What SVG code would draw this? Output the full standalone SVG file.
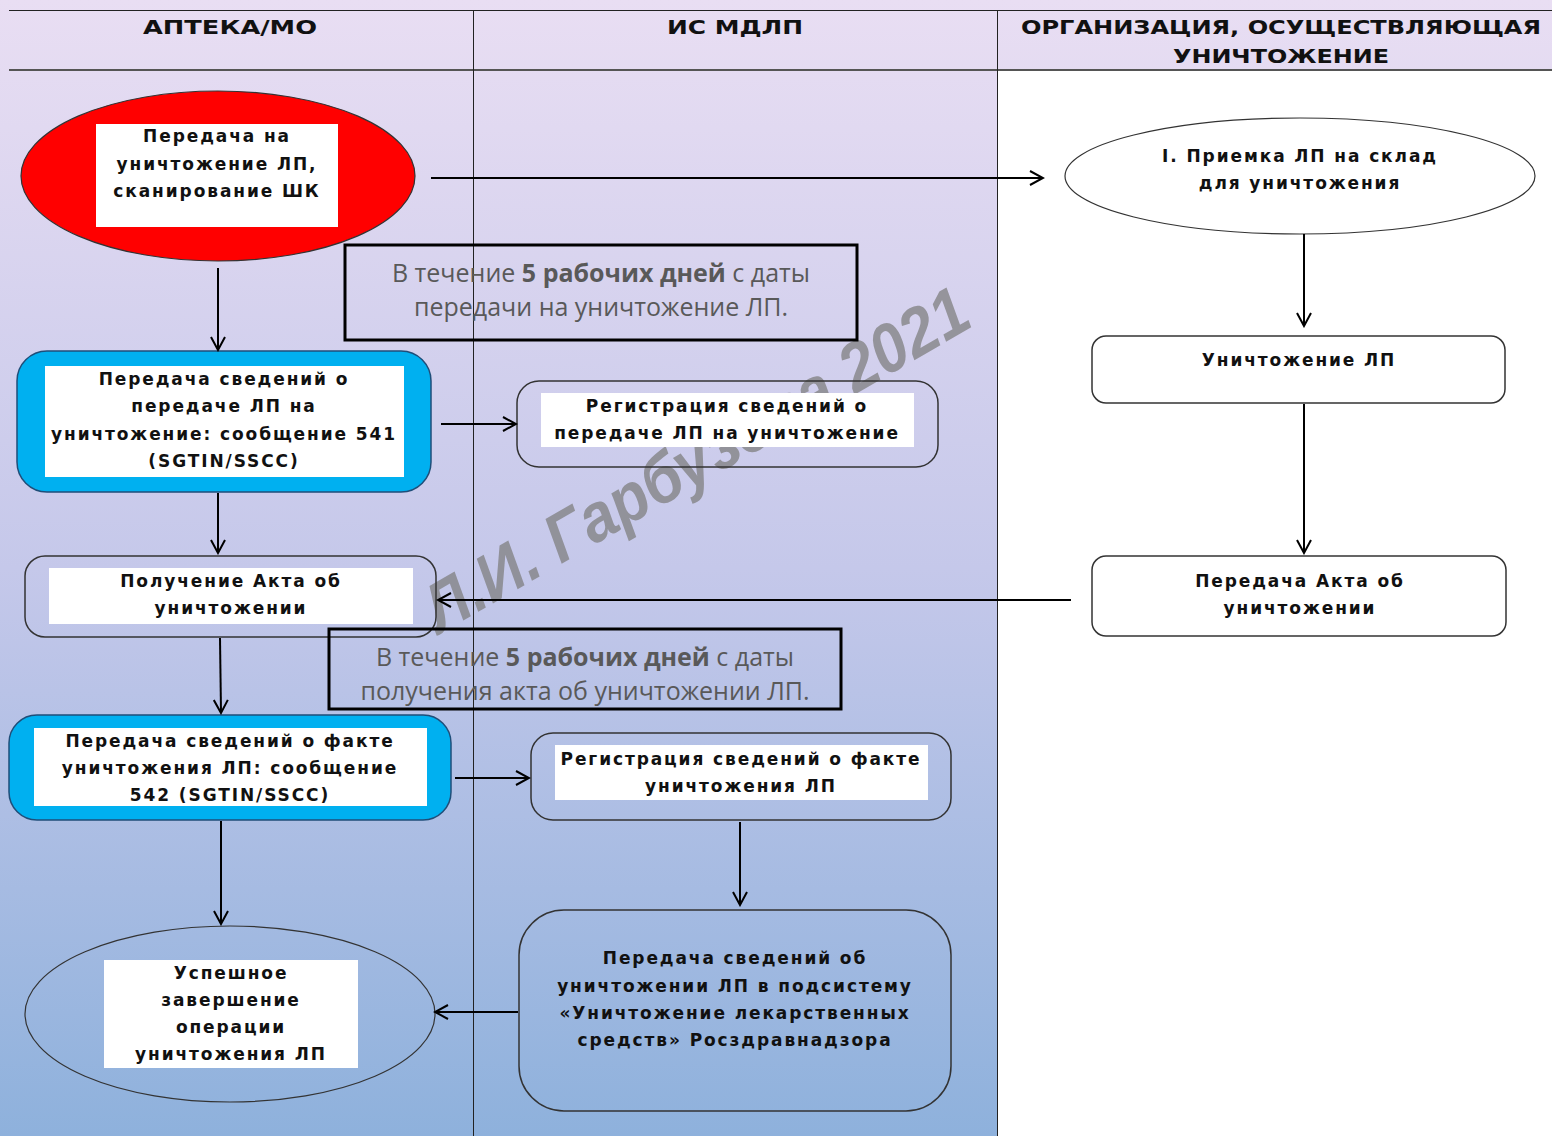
<svg xmlns="http://www.w3.org/2000/svg" width="1552" height="1136" viewBox="0 0 1552 1136">
<defs>
<linearGradient id="bg" x1="0" y1="0" x2="0" y2="1136" gradientUnits="userSpaceOnUse">
<stop offset="0" stop-color="#e9def3"/>
<stop offset="0.5" stop-color="#c5c8ea"/>
<stop offset="1" stop-color="#8eb1dc"/>
</linearGradient>
<marker id="arr" markerUnits="userSpaceOnUse" markerWidth="16" markerHeight="16" refX="14" refY="8" orient="auto">
<path d="M1,1 L14,8 L1,15" fill="none" stroke="#000" stroke-width="2"/>
</marker>
<style>
.hdr{font-family:"DejaVu Sans","Liberation Sans",sans-serif;font-weight:bold;font-size:20px;fill:#111;text-anchor:middle}
.t{font-family:"DejaVu Sans","Liberation Sans",sans-serif;font-weight:bold;font-size:17px;letter-spacing:1.9px;fill:#111;text-anchor:middle}
.note{font-family:"Open Sans","Liberation Sans",sans-serif;font-size:25px;fill:#595959;text-anchor:middle}
.nb{font-weight:bold}
.lane{stroke:#222;stroke-width:1;fill:none}
.box{fill:none;stroke:#333;stroke-width:1.5}
.wbox{fill:#fff;stroke:#333;stroke-width:1.5}
.blue{fill:#00b0f0;stroke:#1f4e79;stroke-width:1.5}
.pad{fill:#fff}
.nbox{fill:none;stroke:#000;stroke-width:3}
.c{stroke:#000;stroke-width:2;fill:none;marker-end:url(#arr)}
.wm{font-family:"Liberation Sans",sans-serif;font-weight:bold;font-style:italic;font-size:68px;fill:#7f7f7f;fill-opacity:0.75}
</style>
</defs>
<rect x="0" y="0" width="1552" height="1136" fill="url(#bg)"/>
<rect x="997" y="71" width="555" height="1065" fill="#fff"/>
<g id="lanes">
<line class="lane" x1="9" y1="10.5" x2="1552" y2="10.5"/>
<line x1="9" y1="70" x2="1552" y2="70" stroke="#555" stroke-width="2"/>
<line class="lane" x1="473.5" y1="10" x2="473.5" y2="1136"/>
<line class="lane" x1="997.5" y1="10" x2="997.5" y2="1136"/>
<text class="hdr" x="230" y="34" textLength="174" lengthAdjust="spacingAndGlyphs">АПТЕКА/МО</text>
<text class="hdr" x="735" y="34" textLength="136" lengthAdjust="spacingAndGlyphs">ИС МДЛП</text>
<text class="hdr" x="1281" y="34" textLength="520" lengthAdjust="spacingAndGlyphs">ОРГАНИЗАЦИЯ, ОСУЩЕСТВЛЯЮЩАЯ</text>
<text class="hdr" x="1281" y="63" textLength="216" lengthAdjust="spacingAndGlyphs">УНИЧТОЖЕНИЕ</text>
</g>
<text class="wm" transform="translate(440,634) rotate(-30)" textLength="618" lengthAdjust="spacingAndGlyphs">Л.И. Гарбузова 2021</text>

<g id="n-start">
<ellipse cx="218" cy="176" rx="197" ry="85" fill="#ff0000" stroke="#333" stroke-width="1.2"/>
<rect class="pad" x="96" y="124" width="242" height="103"/>
<text class="t" x="217" y="142">Передача на</text>
<text class="t" x="217" y="170">уничтожение ЛП,</text>
<text class="t" x="217" y="197">сканирование ШК</text>
</g>
<g id="n-541">
<rect class="blue" x="17" y="351" width="414" height="141" rx="30"/>
<rect class="pad" x="45" y="366" width="359" height="111"/>
<text class="t" x="224" y="385">Передача сведений о</text>
<text class="t" x="224" y="412">передаче ЛП на</text>
<text class="t" x="224" y="440">уничтожение: сообщение 541</text>
<text class="t" x="224" y="467">(SGTIN/SSCC)</text>
</g>
<g id="n-reg1">
<rect class="box" x="517" y="381" width="421" height="86" rx="22"/>
<rect class="pad" x="541" y="393" width="373" height="54"/>
<text class="t" x="727" y="412">Регистрация сведений о</text>
<text class="t" x="727" y="439">передаче ЛП на уничтожение</text>
</g>
<g id="n-act-recv">
<rect class="box" x="25" y="556" width="411" height="81" rx="20"/>
<rect class="pad" x="49" y="568" width="364" height="56"/>
<text class="t" x="231" y="587">Получение Акта об</text>
<text class="t" x="231" y="614">уничтожении</text>
</g>
<g id="n-542">
<rect class="blue" x="9" y="715" width="442" height="105" rx="28"/>
<rect class="pad" x="34" y="728" width="393" height="78"/>
<text class="t" x="230" y="747">Передача сведений о факте</text>
<text class="t" x="230" y="774">уничтожения ЛП: сообщение</text>
<text class="t" x="230" y="801">542 (SGTIN/SSCC)</text>
</g>
<g id="n-reg2">
<rect class="box" x="531" y="733" width="420" height="87" rx="22"/>
<rect class="pad" x="555" y="745" width="373" height="55"/>
<text class="t" x="741" y="765">Регистрация сведений о факте</text>
<text class="t" x="741" y="792">уничтожения ЛП</text>
</g>
<g id="n-rzn">
<rect class="box" x="519" y="910" width="432" height="201" rx="45"/>
<text class="t" x="735" y="964">Передача сведений об</text>
<text class="t" x="735" y="992">уничтожении ЛП в подсистему</text>
<text class="t" x="735" y="1019">«Уничтожение лекарственных</text>
<text class="t" x="735" y="1046">средств» Росздравнадзора</text>
</g>
<g id="n-end">
<ellipse cx="230" cy="1014" rx="205" ry="88" fill="none" stroke="#333" stroke-width="1.2"/>
<rect class="pad" x="104" y="960" width="254" height="108"/>
<text class="t" x="231" y="979">Успешное</text>
<text class="t" x="231" y="1006">завершение</text>
<text class="t" x="231" y="1033">операции</text>
<text class="t" x="231" y="1060">уничтожения ЛП</text>
</g>
<g id="n-accept">
<ellipse cx="1300" cy="176" rx="235" ry="58" fill="#fff" stroke="#333" stroke-width="1.2"/>
<text class="t" x="1300" y="162">I. Приемка ЛП на склад</text>
<text class="t" x="1300" y="189">для уничтожения</text>
</g>
<g id="n-destroy">
<rect class="wbox" x="1092" y="336" width="413" height="67" rx="14"/>
<text class="t" x="1299" y="366">Уничтожение ЛП</text>
</g>
<g id="n-act-send">
<rect class="wbox" x="1092" y="556" width="414" height="80" rx="14"/>
<text class="t" x="1300" y="587">Передача Акта об</text>
<text class="t" x="1300" y="614">уничтожении</text>
</g>
<g id="note1">
<rect class="nbox" x="345" y="245" width="512" height="95"/>
<text class="note" x="601" y="282">В течение <tspan class="nb">5 рабочих дней</tspan> с даты</text>
<text class="note" x="601" y="316">передачи на уничтожение ЛП.</text>
</g>
<g id="note2">
<rect class="nbox" x="329" y="629" width="512" height="80"/>
<text class="note" x="585" y="666">В течение <tspan class="nb">5 рабочих дней</tspan> с даты</text>
<text class="note" x="585" y="700">получения акта об уничтожении ЛП.</text>
</g>
<g id="connectors">
<line class="c" x1="431" y1="178" x2="1043" y2="178"/>
<line class="c" x1="218" y1="268" x2="218" y2="350"/>
<line class="c" x1="441" y1="424" x2="516" y2="424"/>
<line class="c" x1="218" y1="493" x2="218" y2="553"/>
<line class="c" x1="1071" y1="600" x2="438" y2="600"/>
<line class="c" x1="220" y1="638" x2="221" y2="713"/>
<line class="c" x1="455" y1="778" x2="529" y2="778"/>
<line class="c" x1="221" y1="821" x2="221" y2="924"/>
<line class="c" x1="740" y1="822" x2="740" y2="905"/>
<line class="c" x1="518" y1="1012" x2="435" y2="1012"/>
<line class="c" x1="1304" y1="234" x2="1304" y2="326"/>
<line class="c" x1="1304" y1="404" x2="1304" y2="553"/>
</g>
</svg>
